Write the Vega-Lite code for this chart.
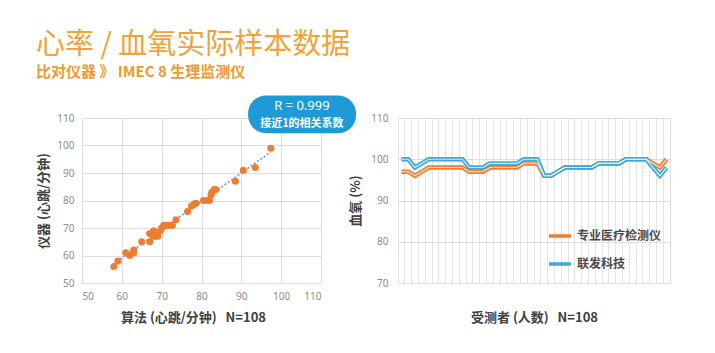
{
  "$schema": "https://vega.github.io/schema/vega-lite/v6.json",
  "background": "white",
  "padding": {"left": 36, "top": 30, "right": 5, "bottom": 5},
  "title": {
    "text": "心率 / 血氧实际样本数据",
    "subtitle": "比对仪器 》 IMEC 8 生理监测仪",
    "anchor": "start",
    "frame": "group",
    "dx": -46,
    "font": "Noto Sans CJK SC",
    "fontSize": 29,
    "fontWeight": "normal",
    "color": "#F0A33A",
    "subtitleFont": "Noto Sans CJK SC",
    "subtitleFontSize": 15,
    "subtitleFontWeight": "bold",
    "subtitleColor": "#EE9A2E",
    "subtitlePadding": 5,
    "offset": 15
  },
  "config": {
    "font": "Noto Sans CJK SC",
    "view": {"stroke": "#dddddd"},
    "axis": {
      "gridColor": "#dedede",
      "domain": false,
      "ticks": false,
      "labelColor": "#8c8c8c",
      "labelFontSize": 10,
      "labelFont": "Noto Sans",
      "titleFont": "Noto Sans CJK SC",
      "titleFontSize": 13,
      "titleFontWeight": "bold",
      "titleColor": "#404040"
    }
  },
  "resolve": {"legend": {"color": "independent"}},
  "bounds": "flush",
  "spacing": 77,
  "hconcat": [
    {
      "width": 239,
      "height": 165,
      "layer": [
        {
          "data": {"name": "scatter"},
          "transform": [{"regression": "仪器", "on": "算法"}],
          "mark": {"type": "line", "color": "#5B9BD5", "strokeDash": [2, 2], "strokeWidth": 1.5},
          "encoding": {
            "x": {
              "field": "算法", "type": "quantitative",
              "scale": {"domain": [50, 110], "nice": false, "zero": false},
              "axis": {"title": "算法 (心跳/分钟)\u00a0\u00a0\u00a0N=108", "values": [50, 60, 70, 80, 90, 100, 110], "labelPadding": 8, "titlePadding": 10, "titleX": 111}
            },
            "y": {
              "field": "仪器", "type": "quantitative",
              "scale": {"domain": [50, 110], "nice": false, "zero": false},
              "axis": {"title": "仪器 (心跳/分钟)", "values": [50, 60, 70, 80, 90, 100, 110], "labelPadding": 8, "titlePadding": 6}
            }
          }
        },
        {
          "data": {"name": "scatter"},
          "mark": {"type": "circle", "color": "#ED7D31", "size": 50, "opacity": 1},
          "encoding": {
            "x": {
              "field": "算法", "type": "quantitative",
              "scale": {"domain": [50, 110], "nice": false, "zero": false},
              "axis": {"title": "算法 (心跳/分钟)\u00a0\u00a0\u00a0N=108", "values": [50, 60, 70, 80, 90, 100, 110], "labelPadding": 8, "titlePadding": 10, "titleX": 111}
            },
            "y": {
              "field": "仪器", "type": "quantitative",
              "scale": {"domain": [50, 110], "nice": false, "zero": false},
              "axis": {"title": "仪器 (心跳/分钟)", "values": [50, 60, 70, 80, 90, 100, 110], "labelPadding": 8, "titlePadding": 6}
            }
          }
        },
        {
          "data": {"values": [{"标注": "R = 0.999"}]},
          "mark": {"type": "rect", "color": "#1E9BD7", "cornerRadius": 18},
          "encoding": {
            "x": {"datum": 91.7, "type": "quantitative",
              "scale": {"domain": [50, 110], "nice": false, "zero": false},
              "axis": {"title": "算法 (心跳/分钟)\u00a0\u00a0\u00a0N=108", "values": [50, 60, 70, 80, 90, 100, 110], "labelPadding": 8, "titlePadding": 10, "titleX": 111}},
            "x2": {"datum": 118.8},
            "y": {"datum": 118.2, "type": "quantitative",
              "scale": {"domain": [50, 110], "nice": false, "zero": false},
              "axis": {"title": "仪器 (心跳/分钟)", "values": [50, 60, 70, 80, 90, 100, 110], "labelPadding": 8, "titlePadding": 6}},
            "y2": {"datum": 104.5}
          }
        },
        {
          "data": {"values": [{"标注": "R = 0.999"}]},
          "mark": {"type": "text", "color": "white", "fontSize": 13, "font": "Noto Sans", "baseline": "middle"},
          "encoding": {
            "x": {"datum": 105.2, "type": "quantitative",
              "scale": {"domain": [50, 110], "nice": false, "zero": false},
              "axis": {"title": "算法 (心跳/分钟)\u00a0\u00a0\u00a0N=108", "values": [50, 60, 70, 80, 90, 100, 110], "labelPadding": 8, "titlePadding": 10, "titleX": 111}},
            "y": {"datum": 114.4, "type": "quantitative",
              "scale": {"domain": [50, 110], "nice": false, "zero": false},
              "axis": {"title": "仪器 (心跳/分钟)", "values": [50, 60, 70, 80, 90, 100, 110], "labelPadding": 8, "titlePadding": 6}},
            "text": {"field": "标注", "type": "nominal"}
          }
        },
        {
          "data": {"values": [{"标注": "接近1的相关系数"}]},
          "mark": {"type": "text", "color": "white", "fontSize": 11, "fontWeight": "bold", "baseline": "middle"},
          "encoding": {
            "x": {"datum": 105.2, "type": "quantitative",
              "scale": {"domain": [50, 110], "nice": false, "zero": false},
              "axis": {"title": "算法 (心跳/分钟)\u00a0\u00a0\u00a0N=108", "values": [50, 60, 70, 80, 90, 100, 110], "labelPadding": 8, "titlePadding": 10, "titleX": 111}},
            "y": {"datum": 107.8, "type": "quantitative",
              "scale": {"domain": [50, 110], "nice": false, "zero": false},
              "axis": {"title": "仪器 (心跳/分钟)", "values": [50, 60, 70, 80, 90, 100, 110], "labelPadding": 8, "titlePadding": 6}},
            "text": {"field": "标注", "type": "nominal"}
          }
        }
      ]
    },
    {
      "width": 272,
      "height": 165,
      "data": {"name": "spo2"},
      "encoding": {
        "x": {
          "field": "受测者", "type": "ordinal",
          "scale": {"type": "band", "paddingInner": 0, "paddingOuter": 0},
          "axis": {"title": "受测者 (人数)\u00a0\u00a0\u00a0N=108", "labels": false, "grid": true, "bandPosition": 0, "gridColor": "#e4e4e4", "titlePadding": 28}
        },
        "y": {
          "field": "血氧", "type": "quantitative",
          "scale": {"domain": [70, 110]},
          "axis": {"title": "血氧 (%)", "values": [70, 80, 90, 100, 110], "labelPadding": 10, "titlePadding": 8}
        }
      },
      "layer": [
        {
          "mark": {"type": "line", "strokeWidth": 4.5},
          "encoding": {
            "color": {
              "field": "仪器", "type": "nominal",
              "scale": {"domain": ["专业医疗检测仪", "联发科技"], "range": ["#ED7D31", "#3FA9D6"]},
              "legend": {
                "orient": "none", "legendX": 149, "legendY": 105, "title": null,
                "symbolType": "stroke", "symbolSize": 480, "symbolStrokeWidth": 3.5,
                "labelFontSize": 12, "labelColor": "#4a4a4a", "labelFontWeight": "bold",
                "rowPadding": 8, "labelOffset": 4
              }
            }
          }
        },
        {
          "mark": {"type": "line", "strokeWidth": 1.2, "color": "white", "opacity": 0.75},
          "encoding": {"detail": {"field": "仪器", "type": "nominal"}}
        }
      ]
    }
  ],
  "datasets": {
    "scatter": [
      {"算法": 58, "仪器": 56}, {"算法": 59, "仪器": 58}, {"算法": 61, "仪器": 61}, {"算法": 62, "仪器": 60},
      {"算法": 63, "仪器": 61}, {"算法": 63, "仪器": 62}, {"算法": 65, "仪器": 65}, {"算法": 67, "仪器": 65},
      {"算法": 67, "仪器": 68}, {"算法": 67.5, "仪器": 68}, {"算法": 68, "仪器": 69}, {"算法": 68, "仪器": 67},
      {"算法": 68.6, "仪器": 67}, {"算法": 69, "仪器": 67}, {"算法": 69.7, "仪器": 69}, {"算法": 70, "仪器": 70},
      {"算法": 70.5, "仪器": 71}, {"算法": 71, "仪器": 71}, {"算法": 71.5, "仪器": 71}, {"算法": 72, "仪器": 71},
      {"算法": 72.7, "仪器": 71}, {"算法": 73.6, "仪器": 73}, {"算法": 76.5, "仪器": 76}, {"算法": 77.5, "仪器": 78},
      {"算法": 78.2, "仪器": 78.7}, {"算法": 78.6, "仪器": 79}, {"算法": 80.5, "仪器": 80}, {"算法": 81.5, "仪器": 80},
      {"算法": 82, "仪器": 80}, {"算法": 82.4, "仪器": 82}, {"算法": 82.6, "仪器": 83}, {"算法": 83.2, "仪器": 84},
      {"算法": 83.6, "仪器": 84}, {"算法": 88.5, "仪器": 87}, {"算法": 90.5, "仪器": 91}, {"算法": 93.5, "仪器": 92},
      {"算法": 97.4, "仪器": 99}
    ],
    "spo2": [
      {"受测者": 1, "仪器": "专业医疗检测仪", "血氧": 97}, {"受测者": 2, "仪器": "专业医疗检测仪", "血氧": 97},
      {"受测者": 3, "仪器": "专业医疗检测仪", "血氧": 96}, {"受测者": 4, "仪器": "专业医疗检测仪", "血氧": 97},
      {"受测者": 5, "仪器": "专业医疗检测仪", "血氧": 98}, {"受测者": 6, "仪器": "专业医疗检测仪", "血氧": 98},
      {"受测者": 7, "仪器": "专业医疗检测仪", "血氧": 98}, {"受测者": 8, "仪器": "专业医疗检测仪", "血氧": 98},
      {"受测者": 9, "仪器": "专业医疗检测仪", "血氧": 98}, {"受测者": 10, "仪器": "专业医疗检测仪", "血氧": 98},
      {"受测者": 11, "仪器": "专业医疗检测仪", "血氧": 97}, {"受测者": 12, "仪器": "专业医疗检测仪", "血氧": 97},
      {"受测者": 13, "仪器": "专业医疗检测仪", "血氧": 97}, {"受测者": 14, "仪器": "专业医疗检测仪", "血氧": 98},
      {"受测者": 15, "仪器": "专业医疗检测仪", "血氧": 98}, {"受测者": 16, "仪器": "专业医疗检测仪", "血氧": 98},
      {"受测者": 17, "仪器": "专业医疗检测仪", "血氧": 98}, {"受测者": 18, "仪器": "专业医疗检测仪", "血氧": 98},
      {"受测者": 19, "仪器": "专业医疗检测仪", "血氧": 99}, {"受测者": 20, "仪器": "专业医疗检测仪", "血氧": 99},
      {"受测者": 21, "仪器": "专业医疗检测仪", "血氧": 99}, {"受测者": 22, "仪器": "专业医疗检测仪", "血氧": 96},
      {"受测者": 23, "仪器": "专业医疗检测仪", "血氧": 96}, {"受测者": 24, "仪器": "专业医疗检测仪", "血氧": 97},
      {"受测者": 25, "仪器": "专业医疗检测仪", "血氧": 98}, {"受测者": 26, "仪器": "专业医疗检测仪", "血氧": 98},
      {"受测者": 27, "仪器": "专业医疗检测仪", "血氧": 98}, {"受测者": 28, "仪器": "专业医疗检测仪", "血氧": 98},
      {"受测者": 29, "仪器": "专业医疗检测仪", "血氧": 98}, {"受测者": 30, "仪器": "专业医疗检测仪", "血氧": 99},
      {"受测者": 31, "仪器": "专业医疗检测仪", "血氧": 99}, {"受测者": 32, "仪器": "专业医疗检测仪", "血氧": 99},
      {"受测者": 33, "仪器": "专业医疗检测仪", "血氧": 99}, {"受测者": 34, "仪器": "专业医疗检测仪", "血氧": 100},
      {"受测者": 35, "仪器": "专业医疗检测仪", "血氧": 100}, {"受测者": 36, "仪器": "专业医疗检测仪", "血氧": 100},
      {"受测者": 37, "仪器": "专业医疗检测仪", "血氧": 100}, {"受测者": 38, "仪器": "专业医疗检测仪", "血氧": 99},
      {"受测者": 39, "仪器": "专业医疗检测仪", "血氧": 98}, {"受测者": 40, "仪器": "专业医疗检测仪", "血氧": 100},
      {"受测者": 1, "仪器": "联发科技", "血氧": 100}, {"受测者": 2, "仪器": "联发科技", "血氧": 100},
      {"受测者": 3, "仪器": "联发科技", "血氧": 98}, {"受测者": 4, "仪器": "联发科技", "血氧": 99},
      {"受测者": 5, "仪器": "联发科技", "血氧": 100}, {"受测者": 6, "仪器": "联发科技", "血氧": 100},
      {"受测者": 7, "仪器": "联发科技", "血氧": 100}, {"受测者": 8, "仪器": "联发科技", "血氧": 100},
      {"受测者": 9, "仪器": "联发科技", "血氧": 100}, {"受测者": 10, "仪器": "联发科技", "血氧": 100},
      {"受测者": 11, "仪器": "联发科技", "血氧": 98}, {"受测者": 12, "仪器": "联发科技", "血氧": 98},
      {"受测者": 13, "仪器": "联发科技", "血氧": 98}, {"受测者": 14, "仪器": "联发科技", "血氧": 99},
      {"受测者": 15, "仪器": "联发科技", "血氧": 99}, {"受测者": 16, "仪器": "联发科技", "血氧": 99},
      {"受测者": 17, "仪器": "联发科技", "血氧": 99}, {"受测者": 18, "仪器": "联发科技", "血氧": 99},
      {"受测者": 19, "仪器": "联发科技", "血氧": 100}, {"受测者": 20, "仪器": "联发科技", "血氧": 100},
      {"受测者": 21, "仪器": "联发科技", "血氧": 100}, {"受测者": 22, "仪器": "联发科技", "血氧": 96},
      {"受测者": 23, "仪器": "联发科技", "血氧": 96}, {"受测者": 24, "仪器": "联发科技", "血氧": 97},
      {"受测者": 25, "仪器": "联发科技", "血氧": 98}, {"受测者": 26, "仪器": "联发科技", "血氧": 98},
      {"受测者": 27, "仪器": "联发科技", "血氧": 98}, {"受测者": 28, "仪器": "联发科技", "血氧": 98},
      {"受测者": 29, "仪器": "联发科技", "血氧": 98}, {"受测者": 30, "仪器": "联发科技", "血氧": 99},
      {"受测者": 31, "仪器": "联发科技", "血氧": 99}, {"受测者": 32, "仪器": "联发科技", "血氧": 99},
      {"受测者": 33, "仪器": "联发科技", "血氧": 99}, {"受测者": 34, "仪器": "联发科技", "血氧": 100},
      {"受测者": 35, "仪器": "联发科技", "血氧": 100}, {"受测者": 36, "仪器": "联发科技", "血氧": 100},
      {"受测者": 37, "仪器": "联发科技", "血氧": 100}, {"受测者": 38, "仪器": "联发科技", "血氧": 98},
      {"受测者": 39, "仪器": "联发科技", "血氧": 96}, {"受测者": 40, "仪器": "联发科技", "血氧": 98}
    ]
  }
}
